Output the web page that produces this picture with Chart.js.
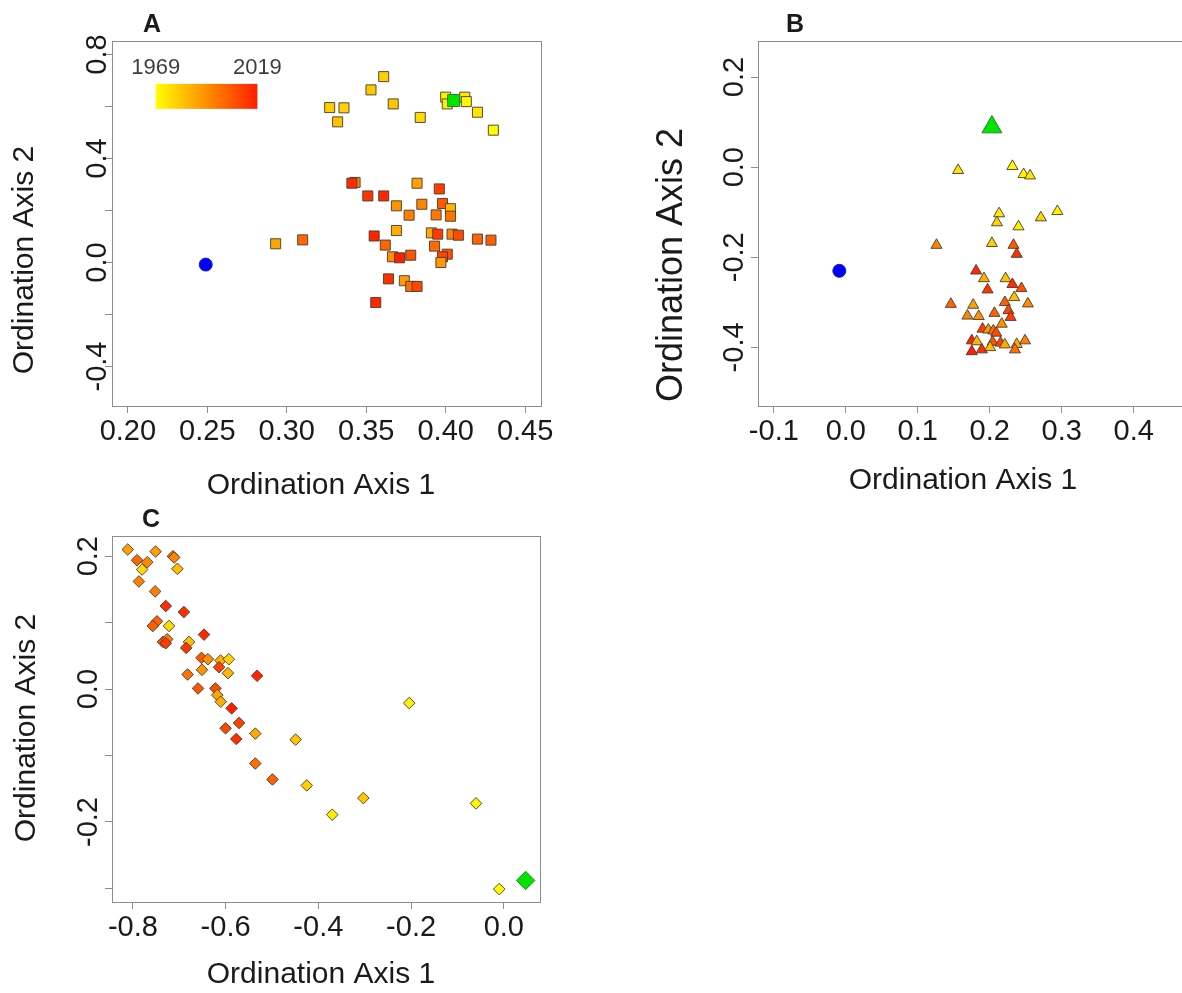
<!DOCTYPE html>
<html>
<head>
<meta charset="utf-8">
<script src="https://cdn.jsdelivr.net/npm/chart.js@4.4.1/dist/chart.umd.min.js"></script>
<style>
body { margin: 0; background: #fff; overflow: hidden; }
#wrap { position: relative; width: 1182px; height: 993px; overflow: hidden; }
canvas { position: absolute; }
</style>
</head>
<body>
<div id="wrap">
<canvas id="panelA" width="560" height="500" style="left:0px;top:0px"></canvas>
<canvas id="panelB" width="558" height="500" style="left:640px;top:0px"></canvas>
<canvas id="panelC" width="560" height="498" style="left:0px;top:495px"></canvas>
</div>
<script>
var FONT = '"Liberation Sans", Arial, Helvetica, sans-serif';
var legendYears = [1969, 2019];

// panel A - squares
var xTicksA = [0.20, 0.25, 0.30, 0.35, 0.40, 0.45];
var yTicksA = [-0.4, -0.2, 0.0, 0.2, 0.4, 0.6, 0.8];
var yLabelsA = [-0.4, 0.0, 0.4, 0.8];
var xA = [0.361, 0.353, 0.367, 0.327, 0.336, 0.332, 0.384, 0.400, 0.401, 0.412, 0.413, 0.420, 0.430,
    0.343, 0.341, 0.351, 0.361, 0.382, 0.396, 0.369, 0.385, 0.398, 0.403, 0.377, 0.394, 0.403, 0.369,
    0.391, 0.395, 0.404, 0.408, 0.420, 0.4285, 0.355, 0.362, 0.3665, 0.371, 0.378, 0.393, 0.401, 0.398,
    0.397, 0.364, 0.374, 0.378, 0.382, 0.356, 0.293, 0.310];
var yA = [0.715, 0.664, 0.610, 0.596, 0.595, 0.541, 0.558, 0.636, 0.610, 0.636, 0.619, 0.578, 0.509,
    0.308, 0.305, 0.256, 0.256, 0.305, 0.283, 0.218, 0.224, 0.227, 0.207, 0.182, 0.183, 0.178, 0.123,
    0.114, 0.109, 0.109, 0.105, 0.090, 0.086, 0.102, 0.067, 0.022, 0.018, 0.028, 0.063, 0.032, 0.022,
    0.000, -0.063, -0.070, -0.092, -0.092, -0.154, 0.072, 0.087];
var yearA = [1980, 1981, 1982, 1980, 1979, 1983, 1977, 1972, 1973, 1974, 1971, 1975, 1970,
    1995, 2016, 2014, 2017, 1990, 2012, 1993, 1996, 2006, 1986, 1998, 1999, 2000, 1987,
    1988, 2013, 1997, 2009, 2004, 2005, 2018, 2003, 1994, 2019, 2007, 2002, 2008, 2011,
    1992, 2015, 1991, 2001, 2010, 2017, 1989, 2003];
var blueA = [0.249, -0.008];
var greenA = [0.405, 0.623];

// panel B - triangles
var xTicksB = [-0.1, 0.0, 0.1, 0.2, 0.3, 0.4];
var yTicksB = [-0.4, -0.2, 0.0, 0.2];
var yLabelsB = [-0.4, -0.2, 0.0, 0.2];
var xB = [0.156, 0.2315, 0.247, 0.256, 0.294, 0.271, 0.213, 0.210, 0.240, 0.203, 0.126, 0.233, 0.2375,
    0.181, 0.192, 0.222, 0.2315, 0.244, 0.197, 0.234, 0.146, 0.177, 0.221, 0.253, 0.226, 0.169, 0.1847,
    0.2065, 0.229, 0.2167, 0.190, 0.198, 0.205, 0.209, 0.175, 0.182, 0.204, 0.215, 0.221, 0.2375, 0.249,
    0.235, 0.175, 0.189, 0.2005];
var yB = [-0.007, 0.002, -0.016, -0.019, -0.098, -0.112, -0.103, -0.123, -0.132, -0.169, -0.173, -0.173, -0.193,
    -0.230, -0.247, -0.247, -0.260, -0.269, -0.272, -0.289, -0.304, -0.306, -0.300, -0.303, -0.318, -0.330, -0.331,
    -0.324, -0.333, -0.348, -0.359, -0.361, -0.363, -0.368, -0.385, -0.387, -0.388, -0.390, -0.394, -0.393, -0.385,
    -0.405, -0.409, -0.405, -0.400];
var yearB = [1976, 1970, 1971, 1975, 1972, 1978, 1974, 1979, 1973, 1980, 1997, 2006, 2015,
    2017, 1986, 1982, 2016, 2008, 2014, 1984, 2003, 1990, 2005, 1995, 2010, 1996, 1993,
    2004, 2013, 1994, 2012, 1992, 2002, 2009, 2018, 1985, 2007, 2011, 1987, 1988, 1998,
    2001, 2019, 2016, 1983];
var blueB = [-0.009, -0.230];
var greenB = [0.203, 0.089];

// panel C - diamonds
var xTicksC = [-0.8, -0.6, -0.4, -0.2, 0.0];
var yTicksC = [-0.3, -0.2, -0.1, 0.0, 0.1, 0.2];
var yLabelsC = [-0.2, 0.0, 0.2];
var xC = [-0.811, -0.791, -0.769, -0.780, -0.751, -0.7135, -0.711, -0.704, -0.787, -0.752, -0.729, -0.690,
    -0.748, -0.757, -0.722, -0.6465, -0.735, -0.726, -0.729, -0.679, -0.685, -0.652, -0.638, -0.611,
    -0.593, -0.614, -0.651, -0.595, -0.532, -0.682, -0.6595, -0.622, -0.618, -0.6105, -0.587, -0.571,
    -0.600, -0.577, -0.536, -0.449, -0.536, -0.499, -0.425, -0.370, -0.303, -0.204, -0.060, -0.010];
var yC = [0.210, 0.194, 0.191, 0.180, 0.207, 0.200, 0.198, 0.181, 0.162, 0.147, 0.125, 0.116,
    0.102, 0.095, 0.095, 0.082, 0.071, 0.075, 0.069, 0.071, 0.062, 0.047, 0.045, 0.043,
    0.045, 0.033, 0.029, 0.024, 0.020, 0.022, 0.001, 0.001, -0.009, -0.019, -0.029, -0.051,
    -0.059, -0.075, -0.067, -0.076, -0.112, -0.136, -0.145, -0.189, -0.164, -0.021, -0.172, -0.301];
var yearC = [1990, 2003, 1995, 1978, 1991, 2002, 1996, 1984, 1997, 1998, 2016, 2015,
    2004, 2005, 1977, 2017, 2008, 1999, 2013, 1983, 2014, 2006, 1994, 1986,
    1979, 2012, 1993, 1985, 2018, 2000, 2007, 2009, 1989, 1987, 2019, 2011,
    2010, 2016, 1988, 1982, 2001, 2004, 1980, 1973, 1981, 1972, 1971, 1970];
var greenC = [0.047, -0.288];

Chart.defaults.font.family = FONT;

function yearColor(yr) {
    var t = (yr - legendYears[0]) / (legendYears[1] - legendYears[0])
    return 'rgb(255,' + Math.round(255 - 225 * t) + ',0)'
}

function toPoints(xs, ys) {
    var pts = []
    for (var i = 0; i < xs.length; i++) {
        pts.push({x: xs[i], y: ys[i]})
    }
    return pts
}

function text(ctx, s, x, y, font, rot, align) {
    ctx.save()
    ctx.translate(x, y)
    if (rot) ctx.rotate(-Math.PI / 2)
    ctx.font = font
    ctx.fillStyle = '#1a1a1a'
    ctx.textAlign = align || 'center'
    ctx.textBaseline = 'alphabetic'
    ctx.fillText(s, 0, 0)
    ctx.restore()
}

// box, rotated y labels, titles and the year legend, R style
function rPlugin(p) {
    return {
        id: 'rstyle',
        beforeDatasetsDraw: function(chart) {
            var a = chart.chartArea, c = chart.ctx
            c.save()
            c.strokeStyle = '#8c8c8c'
            c.lineWidth = 1
            c.strokeRect(Math.round(a.left) + 0.5, Math.round(a.top) + 0.5, Math.round(a.right - a.left), Math.round(a.bottom - a.top))
            c.restore()
            var ys = chart.scales.y
            for (var i = 0; i < p.yLabels.length; i++) {
                var v = p.yLabels[i]
                text(c, v.toFixed(1), p.yLabelX, ys.getPixelForValue(v), '29px ' + FONT, true)
            }
            if (p.legend) {
                var xs = chart.scales.x
                var x0 = xs.getPixelForValue(0.2175), x1 = xs.getPixelForValue(0.2815)
                var y0 = ys.getPixelForValue(0.687), y1 = ys.getPixelForValue(0.591)
                var g = c.createLinearGradient(x0, 0, x1, 0)
                g.addColorStop(0, yearColor(legendYears[0]))
                g.addColorStop(1, yearColor(legendYears[1]))
                c.fillStyle = g
                c.fillRect(x0, y0, x1 - x0, y1 - y0)
                c.save()
                c.globalAlpha = 0.85
                text(c, String(legendYears[0]), x0, ys.getPixelForValue(0.7255), '22px ' + FONT)
                text(c, String(legendYears[1]), x1, ys.getPixelForValue(0.7255), '22px ' + FONT)
                c.restore()
            }
        },
        afterDraw: function(chart) {
            var c = chart.ctx
            text(c, 'Ordination Axis 1', p.xTitle[0], p.xTitle[1], '30px ' + FONT)
            text(c, 'Ordination Axis 2', p.yTitle[0], p.yTitle[1], p.yTitle[2] + 'px ' + FONT, true)
            text(c, p.letter, p.letterPos[0], p.letterPos[1], 'bold 25px ' + FONT, false, 'left')
        }
    }
}

function makePanel(id, p) {
    var datasets = [{
        data: [{x: p.green[0], y: p.green[1]}],
        pointStyle: p.shape,
        pointRadius: p.greenSize,
        pointBackgroundColor: '#00e400',
        pointBorderColor: '#2e7d2e',
        pointBorderWidth: 1
    }]
    if (p.blue) {
        datasets.push({
            data: [{x: p.blue[0], y: p.blue[1]}],
            pointStyle: 'circle',
            pointRadius: 6.5,
            pointBackgroundColor: '#0000ff',
            pointBorderColor: '#2020a0',
            pointBorderWidth: 1
        })
    }
    datasets.push({
        data: toPoints(p.xs, p.ys),
        pointStyle: p.shape,
        pointRadius: p.size,
        pointBackgroundColor: p.years.map(yearColor),
        pointBorderColor: 'rgba(70,60,50,0.9)',
        pointBorderWidth: 1
    })
    var tickGrid = {drawOnChartArea: false, drawTicks: true, tickLength: 7, color: '#8c8c8c', lineWidth: 1}
    new Chart(document.getElementById(id), {
        type: 'scatter',
        data: {datasets: datasets},
        options: {
            responsive: false,
            animation: false,
            devicePixelRatio: 1,
            events: [],
            clip: false,
            layout: {padding: {left: 0, top: p.area[1], right: p.area[2], bottom: 0}},
            plugins: {legend: {display: false}, tooltip: {enabled: false}},
            scales: {
                x: {
                    type: 'linear', min: p.xRange[0], max: p.xRange[1],
                    afterBuildTicks: function(s) { s.ticks = p.xTicks.map(function(v) { return {value: v} }) },
                    afterFit: function(s) { s.height = p.area[3]; s.paddingLeft = 0; s.paddingRight = 0 },
                    ticks: {
                        autoSkip: false, maxRotation: 0, padding: 2, color: '#1a1a1a',
                        font: {size: 29},
                        callback: function(v) { return v.toFixed(p.xDigits) }
                    },
                    grid: tickGrid,
                    border: {display: false}
                },
                y: {
                    type: 'linear', min: p.yRange[0], max: p.yRange[1],
                    afterBuildTicks: function(s) { s.ticks = p.yTicks.map(function(v) { return {value: v} }) },
                    afterFit: function(s) { s.width = p.area[0]; s.paddingTop = 0; s.paddingBottom = 0 },
                    ticks: {display: false},
                    grid: tickGrid,
                    border: {display: false}
                }
            }
        },
        plugins: [rPlugin(p)]
    })
}

makePanel('panelA', {
    xs: xA, ys: yA, years: yearA, blue: blueA, green: greenA,
    shape: 'rect', size: 7.1, greenSize: 8.5,
    xRange: [0.19, 0.46], yRange: [-0.552, 0.852],
    xTicks: xTicksA, yTicks: yTicksA, yLabels: yLabelsA, xDigits: 2,
    area: [112, 41, 19, 94], yLabelX: 106,
    xTitle: [321, 494], yTitle: [33, 260, 30], letter: 'A', letterPos: [143, 32], legend: true
})

makePanel('panelB', {
    xs: xB, ys: yB, years: yearB, blue: blueB, green: greenB,
    shape: 'triangle', size: 6.4, greenSize: 11.5,
    xRange: [-0.122, 0.472], yRange: [-0.53, 0.28],
    xTicks: xTicksB, yTicks: yTicksB, yLabels: yLabelsB, xDigits: 1,
    area: [118, 41, 4.5, 94], yLabelX: 103,
    xTitle: [323, 489], yTitle: [42, 265, 36], letter: 'B', letterPos: [146, 32]
})

makePanel('panelC', {
    xs: xC, ys: yC, years: yearC, blue: null, green: greenC,
    shape: 'rectRot', size: 5.8, greenSize: 9.2,
    xRange: [-0.845, 0.078], yRange: [-0.3204, 0.2304],
    xTicks: xTicksC, yTicks: yTicksC, yLabels: yLabelsC, xDigits: 1,
    area: [112, 41, 20, 91], yLabelX: 97,
    xTitle: [321, 488], yTitle: [35, 233, 30], letter: 'C', letterPos: [142, 32]
})
</script>
</body>
</html>
